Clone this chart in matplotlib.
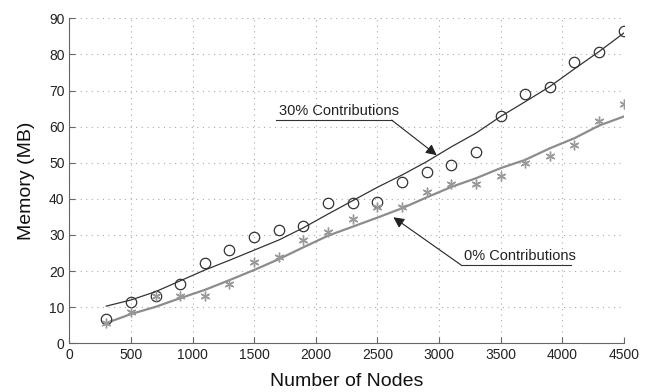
import matplotlib
matplotlib.use("Agg")
import matplotlib.pyplot as plt

plt.rcParams['font.family'] = ['Liberation Sans', 'DejaVu Sans']

nodes = [300, 500, 700, 900, 1100, 1300, 1500, 1700, 1900, 2100, 2300,
         2500, 2700, 2900, 3100, 3300, 3500, 3700, 3900, 4100, 4300, 4500]

# measured memory (MB)
mem_30 = [6.7, 11.5, 13.0, 16.5, 22.2, 25.8, 29.5, 31.4, 32.6, 38.9, 38.9,
          39.2, 44.6, 47.5, 49.3, 52.9, 63.0, 69.0, 71.1, 78.0, 80.8, 86.4]
mem_0 = [5.5, 8.8, 13.1, 13.0, 13.1, 16.5, 22.4, 24.0, 28.6, 30.7, 34.4,
         37.7, 37.7, 41.8, 44.0, 44.2, 46.4, 49.9, 52.0, 54.9, 61.7, 66.2]

# fitted curves
fit_30 = [10.3, 12.0, 14.3, 17.3, 20.3, 23.0, 25.8, 28.6, 32.0, 35.8, 39.5,
          43.2, 46.6, 50.3, 54.4, 58.2, 62.8, 66.9, 71.1, 76.0, 80.8, 85.9]
fit_0 = [5.6, 8.1, 10.1, 12.5, 14.8, 17.5, 20.3, 23.3, 26.6, 29.8, 32.3,
         34.8, 37.4, 40.4, 43.3, 45.7, 48.5, 50.8, 54.0, 56.8, 60.3, 62.8]

fig = plt.figure(figsize=(6.49, 3.92), dpi=100)
ax = fig.add_axes([0.1068, 0.1242, 0.8543, 0.8291])

ax.plot(nodes, fit_30, color='#333333', lw=0.9)
ax.plot(nodes, fit_0, color='#8c8c8c', lw=1.6)
ax.plot(nodes, mem_30, ls='none', marker='o', ms=7.5, mfc='none',
        mec='#333333', mew=0.9)
ax.plot(nodes, mem_0, ls='none', marker=(6, 2, 0), ms=7, color='#999999',
        mew=1.0)

# annotations with underline
ax.text(1700, 63.2, '30% Contributions', fontsize=10.5, color='#222222')
ax.plot([1677, 2617], [61.8, 61.8], color='#333333', lw=0.8)
ax.annotate('', xy=(2982, 52.1), xytext=(2617, 61.8),
            arrowprops=dict(arrowstyle='-|>', color='#222222', lw=0.8,
                            mutation_scale=16, shrinkA=0, shrinkB=0))
ax.text(3200, 23.2, '0% Contributions', fontsize=10.5, color='#222222')
ax.plot([3179, 4072], [21.7, 21.7], color='#333333', lw=0.8)
ax.annotate('', xy=(2630, 34.9), xytext=(3179, 21.7),
            arrowprops=dict(arrowstyle='-|>', color='#222222', lw=0.8,
                            mutation_scale=16, shrinkA=0, shrinkB=0))

ax.set_xlim(0, 4500)
ax.set_ylim(0, 90)
ax.set_xticks(range(0, 4501, 500))
ax.set_yticks(range(0, 91, 10))
ax.grid(True, ls=(0, (1, 4)), color='#aaaaaa', lw=0.8)
for s in ['top', 'right']:
    ax.spines[s].set_visible(False)
for s in ['left', 'bottom']:
    ax.spines[s].set_color('#666666')
ax.tick_params(direction='in', length=4, colors='#666666', labelcolor='#222222',
               labelsize=10)
ax.set_xlabel('Number of Nodes', fontsize=14, color='#111111', labelpad=8)
ax.set_ylabel('Memory (MB)', fontsize=14, color='#111111', labelpad=10)

fig.savefig('out.png', dpi=100)
